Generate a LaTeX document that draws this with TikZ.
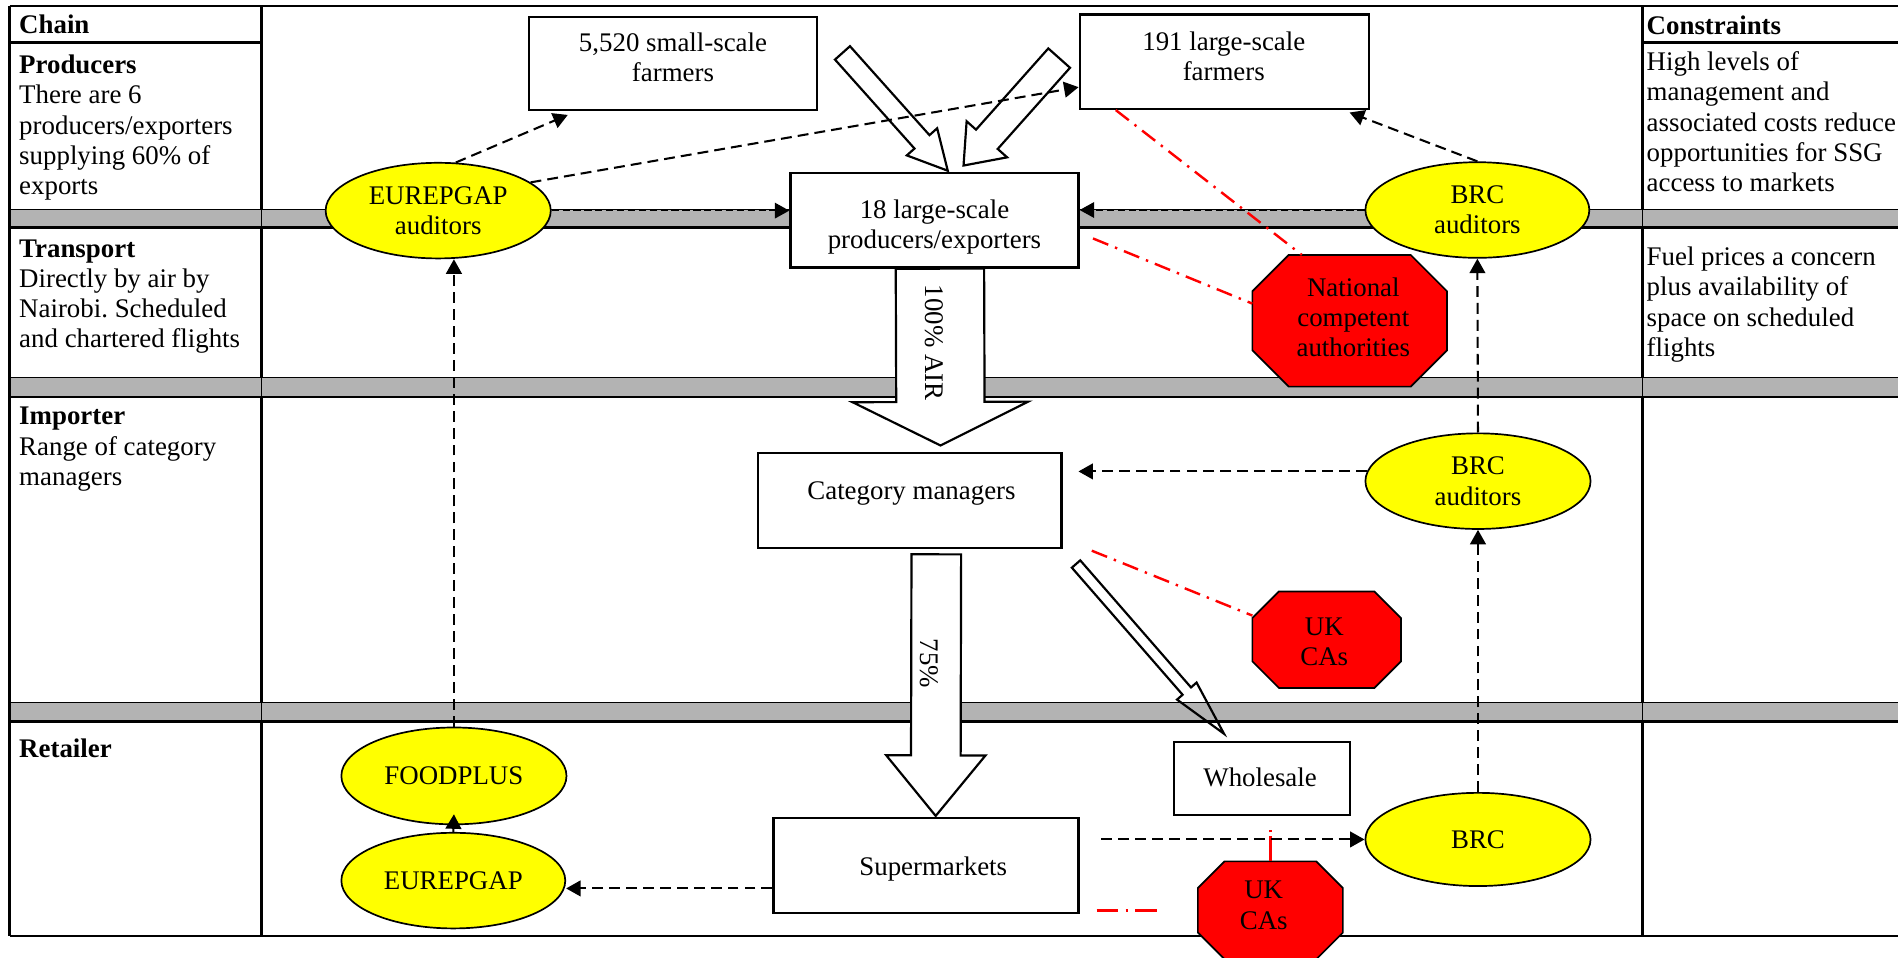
\documentclass[tikz,border=0pt]{standalone}
\usepackage{fontspec}
\setmainfont{Liberation Serif}
\usetikzlibrary{calc,shapes.geometric,arrows.meta}
\definecolor{bandgray}{RGB}{179,179,179}
\definecolor{ylw}{RGB}{255,255,0}
\definecolor{rd}{RGB}{255,0,0}
\frenchspacing
\newcommand{\fsz}{\fontsize{11.1pt}{12.5pt}\selectfont}
\newcommand{\blockarr}[6][]{%
  \coordinate (hb) at ($(#3)!#6!(#2)$);
  \draw[blockarrow,#1] ($(#2)!#4!90:(#3)$) -- ($(hb)!#4!90:(#3)$) -- ($(hb)!#5!90:(#3)$) -- (#3)
     -- ($(hb)!#5!-90:(#3)$) -- ($(hb)!#4!-90:(#3)$) -- ($(#2)!#4!-90:(#3)$) -- cycle;}
\newcommand{\octpath}[2]{%
  \draw[octo] ($(#1.north west)+(#2,0)$) -- ($(#1.north east)+(-#2,0)$) -- ($(#1.north east)+(0,#2)$)
     -- ($(#1.south east)+(0,-#2)$) -- ($(#1.south east)+(-#2,0)$) -- ($(#1.south west)+(#2,0)$)
     -- ($(#1.south west)+(0,-#2)$) -- ($(#1.north west)+(0,#2)$) -- cycle;}
\begin{document}
\begin{tikzpicture}[x=0.5pt,y=-0.5pt,
  txt/.style={inner sep=0pt, font=\fsz, align=left, anchor=north west},
  ctxt/.style={inner sep=0pt, font=\fsz, align=center},
  boxnode/.style={draw, line width=0.95pt, inner sep=0pt, fill=white},
  ellnode/.style={ellipse, draw, line width=0.7pt, fill=ylw, inner sep=0pt, font=\fsz, align=center},
  octbox/.style={inner sep=0pt},
  octo/.style={draw, line width=0.7pt, fill=rd},
  dasharrow/.style={line width=0.85pt, dash pattern=on 4.5pt off 2.5pt, -{Triangle[length=6pt,width=6.5pt]}},
  thindash/.style={line width=0.55pt, dash pattern=on 3pt off 1.5pt, -{Triangle[length=6pt,width=6.5pt]}},
  redline/.style={draw=rd, line width=1pt, dash pattern=on 6.8pt off 3pt on 1pt off 3pt},
  blockarrow/.style={draw, line width=0.9pt, fill=white, line join=miter},
  tabline/.style={line width=1pt}]
\useasboundingbox (0,0) rectangle (1568,791);
% table frame
\draw[tabline] (8,5) -- (8,773);
\draw[tabline] (216,5) -- (216,773);
\draw[tabline] (1357,5) -- (1357,773);
\draw[tabline] (8,5) -- (1568,5);
\draw[tabline] (8,35) -- (216,35);
\draw[tabline] (1357,35) -- (1568,35);
\draw[line width=0.7pt] (8,773) -- (1568,773);
% gray bands
\foreach \a/\b in {173/188, 312/328, 580/596} {
  \fill[bandgray] (8,\a) rectangle (1568,\b);
  \draw[line width=0.4pt] (8,\a) -- (1568,\a);
  \draw[line width=1.1pt] (8,\b) -- (1568,\b);
  \draw[line width=0.4pt] (216,\a) -- (216,\b);
  \draw[line width=0.4pt] (1357,\a) -- (1357,\b);
  \draw[line width=1pt] (8,\a) -- (8,\b);
}
% left column
\node[txt] (chainT) at (15.5,9.8) {\strut\textbf{Chain}};
\node[txt] (prodC) at (15.5,43) {\strut\textbf{Producers}\\There are 6\\producers/exporters\\supplying 60\% of\\exports};
\node[txt] (transC) at (15.5,194.5) {\strut\textbf{Transport}\\Directly by air by\\Nairobi. Scheduled\\and chartered flights};
\node[txt] (impC) at (15.5,333) {\strut\textbf{Importer}\\Range of category\\managers};
\node[txt] (retC) at (15.5,607.5) {\strut\textbf{Retailer}};
% right column
\node[txt] (consT) at (1360,10.2) {\strut\textbf{Constraints}};
\node[txt] (cons1) at (1360,40.5) {\strut High levels of\\management and\\associated costs reduce\\opportunities for SSG\\access to markets};
\node[txt] (cons2) at (1360,201.5) {\strut Fuel prices a concern\\plus availability of\\space on scheduled\\flights};
% boxes
\node[boxnode, minimum width=119pt, minimum height=38.5pt] (bsmall) at (556,52.5) {};
\node[ctxt, anchor=north] (bsmallT) at (556,24.5) {\strut 5,520 small-scale\\farmers};
\node[boxnode, minimum width=119.5pt, minimum height=39pt] (blarge) at (1011.5,51) {};
\node[ctxt, anchor=north] (blargeT) at (1011,24) {\strut 191 large-scale\\farmers};
\node[boxnode, minimum width=119pt, minimum height=39pt] (bprod) at (772,182) {};
\node[ctxt, anchor=north] (bprodT) at (772,162.5) {\strut 18 large-scale\\producers/exporters};
\node[boxnode, minimum width=125.5pt, minimum height=39.5pt] (bcat) at (751.5,413.5) {};
\node[ctxt, anchor=base] (bcatT) at (753,413) {Category managers};
\node[boxnode, minimum width=126pt, minimum height=39pt] (bsup) at (765,715) {};
\node[ctxt, anchor=base] (bsupT) at (771,723) {Supermarkets};
\node[boxnode, line width=0.8pt, minimum width=72.5pt, minimum height=30pt] (bwhole) at (1042.5,643) {};
\node[ctxt, anchor=base] (bwholeT) at (1041,650) {Wholesale};
% block arrows
\coordinate (airA) at ($(bprod.south)+(4.5,0)$);
\coordinate (airB) at ($(bcat.north)+(25.5,-5)$);
\blockarr{airA}{airB}{18.25pt}{36.25pt}{18pt}
\node[ctxt, rotate=-90] (airT) at (772,283) {100\% AIR};
\coordinate (pctA) at ($(bcat.south)+(22,4)$);
\coordinate (pctB) at ($(bsup.north)+(8,-1)$);
\blockarr{pctA}{pctB}{10.25pt}{20.5pt}{25pt}
\node[ctxt, rotate=-90] (pctT) at (768,548) {75\%};
\coordinate (ltA) at (696,43.7);
\coordinate (ltB) at ($(bprod.north)+(11,-1)$);
\blockarr{ltA}{ltB}{4.15pt}{8.4pt}{16pt}
\coordinate (rtA) at (875,48);
\coordinate (rtB) at ($(bprod.north)+(24,-5.3)$);
\blockarr{rtA}{rtB}{6pt}{11.2pt}{14.5pt}
\coordinate (thA) at ($(bcat.south east)+(11,12)$);
\coordinate (thB) at ($(bwhole.north west)+(42,-6)$);
\blockarr[fill=none]{thA}{thB}{2.3pt}{5.35pt}{23.4pt}
% octagons
\node[octbox, minimum width=80pt, minimum height=54pt] (nat) at (1115,265) {};
\octpath{nat}{30}
\node[ctxt] (natT) at (1118,262) {National\\competent\\authorities};
\node[octbox, minimum width=61pt, minimum height=39.5pt] (ukm) at (1096,528.5) {};
\octpath{ukm}{22}
\node[ctxt] (ukmT) at (1094,530) {UK\\CAs};
\node[octbox, minimum width=59.5pt, minimum height=40pt] (ukb) at (1049.5,752) {};
\octpath{ukb}{22}
\node[ctxt] (ukbT) at (1044,748) {UK\\CAs};
% red dash-dot lines
\draw[redline] (blarge.204) -- (nat.126.5);
\draw[redline] ($(bprod.east)+(11,15)$) -- (nat.170);
\draw[redline] ($(bcat.south east)+(24,1)$) -- (ukm.162);
\coordinate (r4) at ($(ukb.north)+(0,-27)$);
\draw[redline, dash pattern=on 10.5pt off 1.5pt on 0.8pt off 5pt] (ukb.north) -- (r4);
\coordinate (r5a) at ($(bsup.south east)+(14,-3)$);
\coordinate (r5b) at ($(r5a)+(51,0)$);
\draw[redline, line width=1.1pt, dash pattern=on 9pt off 3pt on 1pt off 3pt] (r5a) -- (r5b);
% ellipses
\node[ellnode, minimum width=93pt, minimum height=39.5pt] (euaud) at (362,174) {EUREPGAP\\auditors};
\node[ellnode, minimum width=92.5pt, minimum height=39.5pt] (brc1) at (1220.5,173.5) {BRC\\auditors};
\node[ellnode, minimum width=93pt, minimum height=39.5pt] (brc2) at (1221,397.5) {BRC\\auditors};
\node[ellnode, minimum width=93pt, minimum height=38.5pt] (brc3) at (1221,693.5) {BRC};
\node[ellnode, minimum width=93pt, minimum height=40pt] (food) at (375,641) {FOODPLUS};
\node[ellnode, minimum width=92.5pt, minimum height=39.5pt] (euret) at (374.5,727.5) {EUREPGAP};
% dashed arrows
\draw[dasharrow] (euaud.70) -- ($(bsmall.south west)+(33,3)$);
\draw[dasharrow] (euaud.17) -- ($(blarge.west)+(0,21)$);
\draw[thindash] (euaud.east) -- (euaud.east -| bprod.west);
\draw[thindash] (brc1.west) -- (brc1.west -| bprod.east);
\draw[dasharrow] (brc1.north) -- ($(blarge.south east)+(-17,2)$);
\draw[dasharrow] (brc2.north) -- (brc1.south);
\draw[dasharrow] (brc2.175) -- ($(brc2.175 -| bcat.east)+(13,0)$);
\draw[dasharrow] (brc3.north) -- (brc2.south);
\draw[dasharrow] ($(brc3.west -| bsup.east)+(18,0)$) -- (brc3.west);
\coordinate (supL) at ($(bsup.south west)+(0,-21)$);
\draw[dasharrow] (supL) -- (supL -| euret.east);
\draw[dasharrow] (euret.north) -- ($(food.south)+(0,-9)$);
\draw[dasharrow] (food.north) -- (food.north |- euaud.south);
\end{tikzpicture}
\end{document}
